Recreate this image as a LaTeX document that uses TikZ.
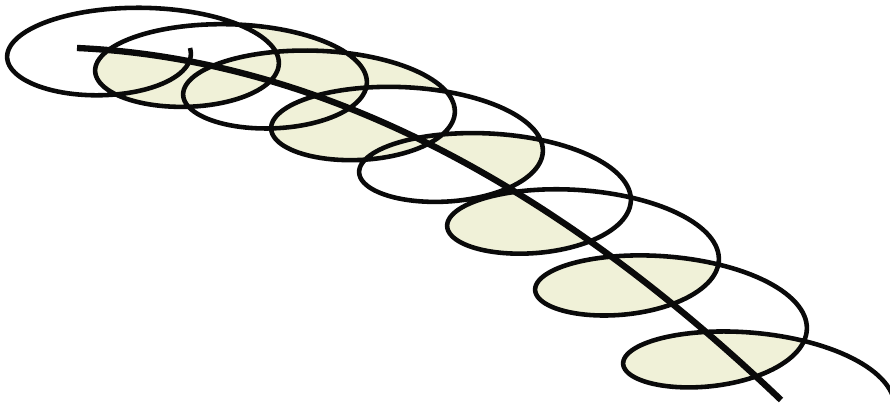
\documentclass[tikz,border=0pt]{standalone}
\usepackage{xcolor}
\usepackage{tikz}
\definecolor{CoilInk}{HTML}{0A0A0A}
\definecolor{BladeCream}{HTML}{F0F1D8}

\begin{document}
\begin{tikzpicture}[x=0.1mm,y=-0.1mm,
  declare function={cx(\t)=77+14.006*\t; cy(\t)=48+0.6366*\t+0.12665*\t*\t;
    px(\t)=cx(\t)+113*cos(\t r); py(\t)=cy(\t)+46*sin(\t r);},
  coil/.style={draw=CoilInk,line width=1.3pt,line join=round},
  rod/.style={draw=CoilInk,line width=1.8pt},
  blade/.style={fill=BladeCream}
]
\useasboundingbox (0,0) rectangle (890,405);
\clip (0,0) rectangle (890,405);

% loops under the centre line
\begin{scope}
  \clip (-20,48) -- plot[domain=0:16*pi,samples=100,variable=\t] ({cx(\t)},{cy(\t)})
    -- (790,430) -- (-20,430) -- cycle;
  \foreach \k/\a/\b in {2/-0.7/1.5,4/-0.25/1.25,6/0.1/1.18}{
    \pgfmathsetmacro{\tA}{(2*\k-2)*pi+\a}
    \pgfmathsetmacro{\tB}{2*\k*pi-\b}
    \fill[blade] plot[domain=\tA:\tB,samples=90,variable=\t] ({px(\t)},{py(\t)}) -- cycle;
  }
\end{scope}
% loops over the centre line
\begin{scope}
  \clip (-20,48) -- plot[domain=0:16*pi,samples=100,variable=\t] ({cx(\t)},{cy(\t)})
    -- (790,430) -- (920,430) -- (920,-20) -- (-20,-20) -- cycle;
  \foreach \k/\a/\b in {3/-0.45/1.33,5/-0.05/1.2}{
    \pgfmathsetmacro{\tA}{(2*\k-2)*pi+\a}
    \pgfmathsetmacro{\tB}{2*\k*pi-\b}
    \fill[blade] plot[domain=\tA:\tB,samples=90,variable=\t] ({px(\t)},{py(\t)}) -- cycle;
  }
\end{scope}
% whole loops
\foreach \k/\a/\b in {7/0.24/1.19,8/0.36/1.2}{
  \pgfmathsetmacro{\tA}{(2*\k-2)*pi+\a}
  \pgfmathsetmacro{\tB}{2*\k*pi-\b}
  \fill[blade] plot[domain=\tA:\tB,samples=90,variable=\t] ({px(\t)},{py(\t)}) -- cycle;
}
% strips between two tops
\fill[blade] plot[domain=4*pi-1.5:4*pi-0.45,samples=30,variable=\t] ({px(\t)},{py(\t)})
  -- plot[domain=6*pi-1.33:6*pi-1.9,samples=20,variable=\t] ({px(\t)},{py(\t)})
  -- plot[domain=2*pi-0.15:2*pi-0.7,samples=20,variable=\t] ({px(\t)},{py(\t)}) -- cycle;
\fill[blade] plot[domain=6*pi-1.33:6*pi+0.25,samples=30,variable=\t] ({px(\t)},{py(\t)})
  -- plot[domain=8*pi-1.25:8*pi-1.9,samples=20,variable=\t] ({px(\t)},{py(\t)})
  -- plot[domain=4*pi+0.25:4*pi-0.45,samples=20,variable=\t] ({px(\t)},{py(\t)}) -- cycle;

% centre line
\draw[rod] plot[domain=0:16*pi,samples=140,variable=\t] ({cx(\t)},{cy(\t)});

% the coil
\draw[coil] plot[domain=0:16.4*pi,samples=900,variable=\t] ({px(\t)},{py(\t)});
\end{tikzpicture}
\end{document}
